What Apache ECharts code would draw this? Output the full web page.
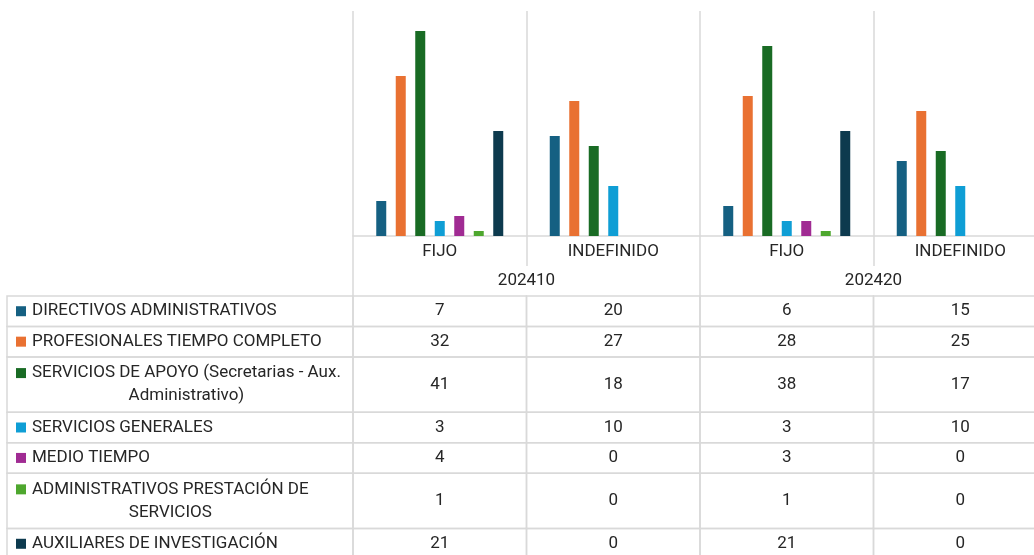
<!DOCTYPE html>
<html>
<head>
<meta charset="utf-8">
<script src="https://cdn.jsdelivr.net/npm/echarts@6/dist/echarts.min.js"></script>
<style>
html, body { margin: 0; padding: 0; background: #fff; }
#main { width: 1034px; height: 555px; }
</style>
</head>
<body>
<div id="main"></div>
<script>
// datos
var categorias = ['FIJO', 'INDEFINIDO', 'FIJO', 'INDEFINIDO'];
var periodos = ['202410', '202420'];
var nombres = [
	'DIRECTIVOS ADMINISTRATIVOS',
	'PROFESIONALES TIEMPO COMPLETO',
	'SERVICIOS DE APOYO (Secretarias - Aux.\nAdministrativo)',
	'SERVICIOS GENERALES',
	'MEDIO TIEMPO',
	'ADMINISTRATIVOS PRESTACIÓN DE\nSERVICIOS',
	'AUXILIARES DE INVESTIGACIÓN'
];
var directivos = [7, 20, 6, 15];
var profesionales = [32, 27, 28, 25];
var apoyo = [41, 18, 38, 17];
var generales = [3, 10, 3, 10];
var medioTiempo = [4, 0, 3, 0];
var prestacion = [1, 0, 1, 0];
var auxiliares = [21, 0, 21, 0];
var valores = [directivos, profesionales, apoyo, generales, medioTiempo, prestacion, auxiliares];
var colores = ['#156082', '#E97132', '#196B24', '#0F9ED5', '#A02B93', '#4EA72E', '#0D3A4E'];

var FUENTE = 'Roboto';
var TAM = 17;
var COLOR_TEXTO = '#262626';
var COLOR_LINEA = '#d9d9d9';
var IZQ_TABLA = 7;

// medir el ancho de texto
var ctx = document.createElement('canvas').getContext('2d');
ctx.font = TAM + 'px ' + FUENTE;
function medir(t) { return ctx.measureText(t).width; }

// filas de la tabla (alto segun lineas del nombre)
var inicio = [], alto = [], acum = 0;
nombres.forEach(function(n) {
	var h = n.split('\n').length > 1 ? 1.82 : 1;
	inicio.push(acum); alto.push(h); acum += h;
});
var celdas = [];
for (var r = 0; r < nombres.length; r++) {
	celdas.push([0, inicio[r], inicio[r] + alto[r], r, 1]);
	for (var c = 0; c < categorias.length; c++) {
		celdas.push([c, inicio[r], inicio[r] + alto[r], r, 0]);
	}
}

function dibujarCelda(params, api) {
	var c = api.value(0), r = api.value(3), esNombre = api.value(4);
	var p0 = api.coord([c, api.value(1)]);
	var p1 = api.coord([c, api.value(2)]);
	var top = p0[1], h = p1[1] - p0[1];
	var cs = params.coordSys;
	var lineaStyle = { fill: null, stroke: COLOR_LINEA, lineWidth: 1.5 };
	if (esNombre) {
		var lineas = nombres[r].split('\n');
		var cy = top + h / 2;
		var y1 = cy - (lineas.length - 1) * 23 / 2;
		var xTexto = IZQ_TABLA + 25;
		return {
			type: 'group',
			children: [
				{ type: 'rect', shape: { x: IZQ_TABLA, y: top, width: cs.x - IZQ_TABLA, height: h }, style: lineaStyle },
				{ type: 'rect', shape: { x: IZQ_TABLA + 9, y: y1 - 5, width: 10, height: 10 }, style: { fill: colores[r] } },
				{ type: 'text', x: xTexto + medir(lineas[0]) / 2, y: cy,
					style: { text: nombres[r], fontFamily: FUENTE, fontSize: TAM, fill: COLOR_TEXTO,
						align: 'center', verticalAlign: 'middle', lineHeight: 23 } }
			]
		};
	}
	var w = api.size([1, 0])[0];
	return {
		type: 'group',
		children: [
			{ type: 'rect', shape: { x: p0[0] - w / 2, y: top, width: w, height: h }, style: lineaStyle },
			{ type: 'text', x: p0[0], y: top + h / 2,
				style: { text: String(valores[r][c]), fontFamily: FUENTE, fontSize: TAM, fill: COLOR_TEXTO,
					align: 'center', verticalAlign: 'middle' } }
		]
	};
}

var series = nombres.map(function(n, i) {
	return {
		name: n,
		type: 'bar',
		xAxisIndex: 0,
		yAxisIndex: 0,
		barWidth: 10,
		barGap: '95%',
		itemStyle: { color: colores[i] },
		data: valores[i]
	};
});
series.push({
	type: 'custom',
	xAxisIndex: 2,
	yAxisIndex: 1,
	renderItem: dibujarCelda,
	encode: { x: 0, y: [1, 2] },
	data: celdas,
	silent: true
});

var myChart = echarts.init(document.getElementById('main'));
var option = {
	animation: false,
	backgroundColor: '#fff',
	grid: [
		{ left: 353, width: 694, top: 11, height: 225, outerBoundsMode: 'none' },
		{ left: 353, width: 694, top: 296, height: 263, outerBoundsMode: 'none' }
	],
	xAxis: [
		{
			type: 'category',
			gridIndex: 0,
			data: categorias,
			axisLine: { lineStyle: { color: COLOR_LINEA, width: 1.5 } },
			axisTick: { show: true, interval: 0, length: 30, lineStyle: { color: COLOR_LINEA, width: 1.5 } },
			splitLine: { show: true, interval: 0, lineStyle: { color: COLOR_LINEA, width: 1.5 } },
			axisLabel: { interval: 0, margin: 7, color: COLOR_TEXTO, fontFamily: FUENTE, fontSize: TAM }
		},
		{
			type: 'category',
			gridIndex: 0,
			position: 'bottom',
			offset: 30,
			data: periodos,
			axisLine: { show: false },
			axisTick: { show: true, interval: 0, length: 30, lineStyle: { color: COLOR_LINEA, width: 1.5 } },
			splitLine: { show: false },
			axisLabel: { interval: 0, margin: 6, color: COLOR_TEXTO, fontFamily: FUENTE, fontSize: TAM }
		},
		{
			type: 'category',
			gridIndex: 1,
			data: categorias,
			show: false
		}
	],
	yAxis: [
		{ type: 'value', gridIndex: 0, min: 0, max: 45, show: false },
		{ type: 'value', gridIndex: 1, min: 0, max: acum, inverse: true, show: false }
	],
	series: series
};
myChart.setOption(option);
</script>
</body>
</html>
